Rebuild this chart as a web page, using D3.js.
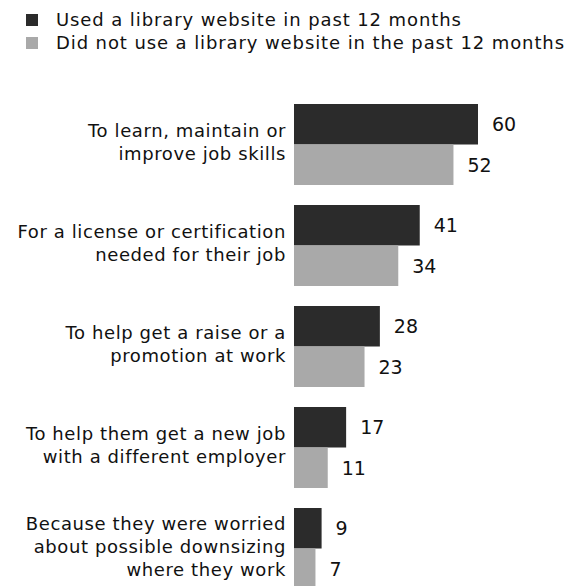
<!DOCTYPE html>
<html>
<head>
<meta charset="utf-8">
<script src="https://cdn.jsdelivr.net/npm/d3@7"></script>
<style>
  body { margin: 0; background: #fff; }
  svg { display: block; }
  text { font-family: "DejaVu Sans", sans-serif; fill: #111; }
</style>
</head>
<body>
<div id="chart"></div>
<script>
const categories = [
  ["To learn, maintain or", "improve job skills"],
  ["For a license or certification", "needed for their job"],
  ["To help get a raise or a", "promotion at work"],
  ["To help them get a new job", "with a different employer"],
  ["Because they were worried", "about possible downsizing", "where they work"]
];
const seriesNames = [
  "Used a library website in past 12 months",
  "Did not use a library website in the past 12 months"
];
const usedValues = [60, 41, 28, 17, 9];
const notUsedValues = [52, 34, 23, 11, 7];
const colors = ["#2b2b2b", "#a9a9a9"];

const width = 567, height = 586;
const svg = d3.select("#chart").append("svg")
  .attr("width", width)
  .attr("height", height);

const keys = categories.map((c, i) => "c" + i);
const rows = keys.map((k, i) => ({ key: k, lines: categories[i], values: [usedValues[i], notUsedValues[i]] }));

const x = d3.scaleLinear().domain([0, 60]).range([294, 478]);
const y = d3.scaleBand().domain(keys).range([104, 589]).paddingInner(0.198).paddingOuter(0);
const ySub = d3.scaleBand().domain([0, 1]).range([0, y.bandwidth()]);

// legend
const legend = svg.append("g");
seriesNames.forEach((name, i) => {
  legend.append("rect")
    .attr("x", 26).attr("y", 14 + i * 23)
    .attr("width", 12).attr("height", 12)
    .attr("fill", colors[i]);
  legend.append("text")
    .attr("x", 56).attr("y", 26 + i * 23)
    .style("font-size", "18px")
    .style("letter-spacing", "0.9px")
    .text(name);
});

const group = svg.selectAll("g.grp")
  .data(rows)
  .join("g")
  .attr("class", "grp")
  .attr("transform", d => `translate(0,${y(d.key)})`);

group.selectAll("rect")
  .data(d => d.values)
  .join("rect")
  .attr("x", x(0))
  .attr("y", (v, i) => ySub(i))
  .attr("width", v => x(v) - x(0))
  .attr("height", ySub.bandwidth())
  .attr("fill", (v, i) => colors[i]);

group.selectAll("text.val")
  .data(d => d.values)
  .join("text")
  .attr("class", "val")
  .attr("x", v => x(v) + 14)
  .attr("y", (v, i) => ySub(i) + ySub.bandwidth() / 2)
  .attr("dy", "0.36em")
  .style("font-size", "19px")
  .text(v => v);

group.append("text")
  .attr("class", "lab")
  .attr("text-anchor", "end")
  .style("font-size", "18px")
  .style("letter-spacing", "0.6px")
  .selectAll("tspan")
  .data(d => d.lines.map((l, i) => ({ l, i, n: d.lines.length })))
  .join("tspan")
  .attr("x", 286)
  .attr("y", d => y.bandwidth() / 2 + (d.i - (d.n - 1) / 2) * 23 - 2)
  .attr("dy", "0.36em")
  .text(d => d.l);
</script>
</body>
</html>
